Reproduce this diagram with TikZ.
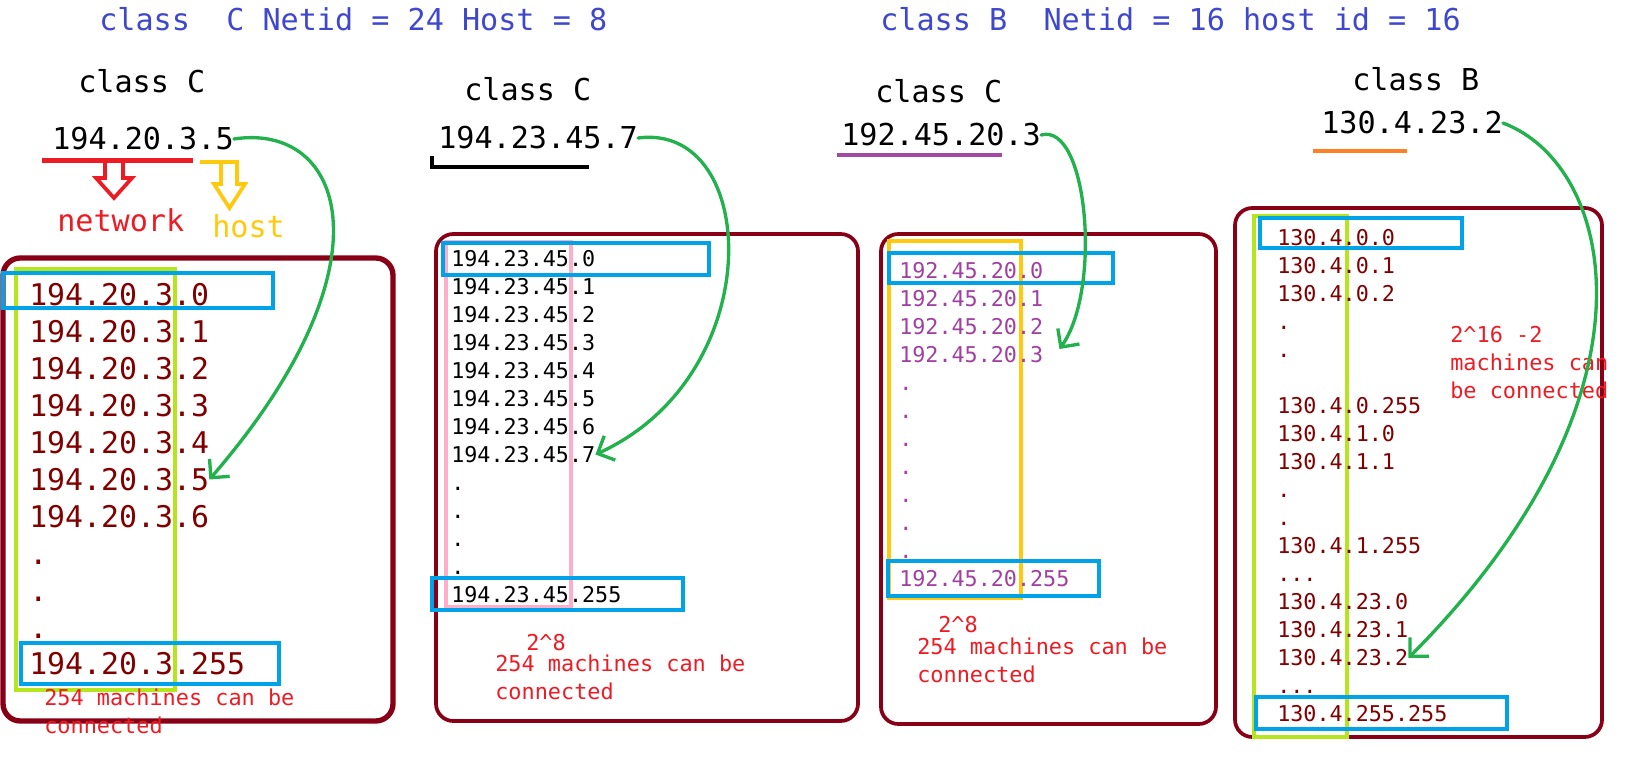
\documentclass[tikz,border=0pt]{standalone}
\usepackage{fontspec}
\newfontfamily\monofont{DejaVu Sans Mono}
\usetikzlibrary{arrows.meta,calc}
\definecolor{titleblue}{RGB}{63,72,204}
\definecolor{framered}{RGB}{136,0,21}
\definecolor{rowred}{RGB}{128,0,0}
\definecolor{notered}{RGB}{237,28,36}
\definecolor{hostgold}{RGB}{255,201,14}
\definecolor{arrowgreen}{RGB}{34,177,76}
\definecolor{cellblue}{RGB}{0,162,232}
\definecolor{limeline}{RGB}{181,230,29}
\definecolor{pinkline}{RGB}{255,174,201}
\definecolor{purpleline}{RGB}{163,73,164}
\definecolor{purpletext}{RGB}{160,64,160}
\definecolor{orangeline}{RGB}{255,127,39}
\tikzset{
  bigtxt/.style={
    font=\monofont\fontsize{22.6}{27}\selectfont,
    inner sep=0pt,
    anchor=west
  },
  rowbig/.style={
    font=\monofont\fontsize{22.4}{27}\selectfont,
    inner sep=0pt,
    anchor=west,
    text height=16.4pt,
    text depth=0pt
  },
  rowsmall/.style={
    font=\monofont\fontsize{16.3}{21}\selectfont,
    inner sep=0pt,
    anchor=west,
    text height=11.9pt,
    text depth=0pt
  },
  note/.style={
    font=\monofont\fontsize{16.4}{21}\selectfont,
    inner sep=0pt,
    anchor=north west,
    align=left,
    text=notered
  },
  frame/.style={draw=framered, line width=2.8pt, rounded corners=13pt},
  cell/.style={draw=cellblue, line width=2.7pt},
  column/.style={line width=2.4pt},
  hollow/.style={line width=2.8pt, line join=miter},
  pick/.style={draw=arrowgreen, line width=2.5pt, line cap=round, -{Straight Barb[length=10pt,width=20pt]}}
}
\begin{document}
\begin{tikzpicture}[x=0.75pt,y=-0.75pt]
  \fill[white] (0,0) rectangle (1634,762);
  \useasboundingbox (0,0) rectangle (1634,762);

  % headings
  \node[bigtxt, text=titleblue] (headC) at (99,19) {class\ \ C Netid = 24 Host = 8};
  \node[bigtxt, text=titleblue] (headB) at (880,19) {class B\ \ Netid = 16 host id = 16};

  % class labels and addresses
  \node[bigtxt] (lab1) at (78,81) {class C};
  \node[bigtxt] (ip1) at (52,139) {194.20.3.5};
  \node[bigtxt] (lab2) at (464,89) {class C};
  \node[bigtxt] (ip2) at (438,138) {194.23.45.7};
  \node[bigtxt] (lab3) at (875,91) {class C};
  \node[bigtxt] (ip3) at (841,135) {192.45.20.3};
  \node[bigtxt] (lab4) at (1352,79) {class B};
  \node[bigtxt] (ip4) at (1321,123) {130.4.23.2};

  % network / host split
  \draw[notered, line width=3.4pt] (42,160.5) -- (193,160.5);
  \draw[hostgold, line width=3.4pt] (200,162) -- (239,162);
  \draw[hollow, notered] (105,161) -- (105,178) -- (96,178) -- (114,198) -- (132,178) -- (123,178) -- (123,161);
  \draw[hollow, hostgold] (221,162) -- (221,184) -- (214,184) -- (229.5,208) -- (245,184) -- (237,184) -- (237,162);
  \node[bigtxt, text=notered] (net) at (57,220) {network};
  \node[bigtxt, text=hostgold] (host) at (212,226) {host};

  % underlines
  \draw[black, line width=3pt] (432,156) -- (432,167) -- (589,167);
  \draw[purpleline, line width=3.4pt] (837,155) -- (1002,155);
  \draw[orangeline, line width=3pt] (1313,151) -- (1407,151);

  % frames
  \draw[frame, line width=4pt] (3,258) rectangle (393,721);
  \draw[frame] (436,234) rectangle (858,721);
  \draw[frame] (881,234) rectangle (1216,724);
  \draw[frame] (1235,208) rectangle (1602,737);

  % network part columns
  \draw[column, limeline] (16,269) rectangle (175,690);
  \draw[column, pinkline] (446,242) rectangle (571,607);
  \draw[column, hostgold] (889,241) rectangle (1021,598);
  \draw[column, limeline] (1254,216) rectangle (1347,737);

  % first and last address
  \draw[cell] (3,273) rectangle (273,308);
  \draw[cell] (21,643) rectangle (279,684);
  \draw[cell] (443,243) rectangle (709,275);
  \draw[cell] (432,578) rectangle (683,610);
  \draw[cell] (889,253) rectangle (1113,283);
  \draw[cell] (888,561) rectangle (1099,596);
  \draw[cell] (1260,218) rectangle (1462,248);
  \draw[cell] (1256,697) rectangle (1507,729);

  % address lists
  \foreach \t [count=\i from 0] in {194.20.3.0,194.20.3.1,194.20.3.2,194.20.3.3,194.20.3.4,194.20.3.5,194.20.3.6,.,.,.,194.20.3.255}
    \node[rowbig, text=rowred] (a\i) at (29,{295+36.9*\i}) {\t};
  \foreach \t [count=\i from 0] in {194.23.45.0,194.23.45.1,194.23.45.2,194.23.45.3,194.23.45.4,194.23.45.5,194.23.45.6,194.23.45.7,.,.,.,.,194.23.45.255}
    \node[rowsmall] (b\i) at (451,{258.5+28*\i}) {\t};
  \foreach \t [count=\i from 0] in {192.45.20.0,192.45.20.1,192.45.20.2,192.45.20.3,.,.,.,.,.,.,.,192.45.20.255}
    \node[rowsmall, text=purpletext] (c\i) at (899,{271+28*\i}) {\t};
  \foreach \t [count=\i from 0] in {130.4.0.0,130.4.0.1,130.4.0.2,.,.,{},130.4.0.255,130.4.1.0,130.4.1.1,.,.,130.4.1.255,.{}.{}.,130.4.23.0,130.4.23.1,130.4.23.2,.{}.{}.,130.4.255.255}
    \node[rowsmall, text=rowred] (d\i) at (1277,{238+28*\i}) {\t};

  % counts
  \node[note] (n1) at (44,689) {254 machines can be\\connected};
  \node[note, anchor=west] (p2) at (526,643) {2\textasciicircum 8};
  \node[note] (n2) at (495,655) {254 machines can be\\connected};
  \node[note, anchor=west] (p3) at (938,625) {2\textasciicircum 8};
  \node[note] (n3) at (917,638) {254 machines can be\\connected};
  \node[note] (n4) at (1450,326) {2\textasciicircum 16 -2\\machines can\\be connected};

  % address to its place in the list
  \coordinate (c3tip) at ($(c3.east)+(16,-6)$);
  \draw[pick] (ip1.east) .. controls (345,122) and (395,265) .. (a5.east);
  \draw[pick] (ip2.east) .. controls (760,122) and (770,375) .. (b7.east);
  \draw[pick] (ip3.east) .. controls (1088,122) and (1102,290) .. (c3tip);
  \draw[pick] (ip4.east) .. controls (1615,165) and (1670,395) .. (d15.east);
\end{tikzpicture}
\end{document}
